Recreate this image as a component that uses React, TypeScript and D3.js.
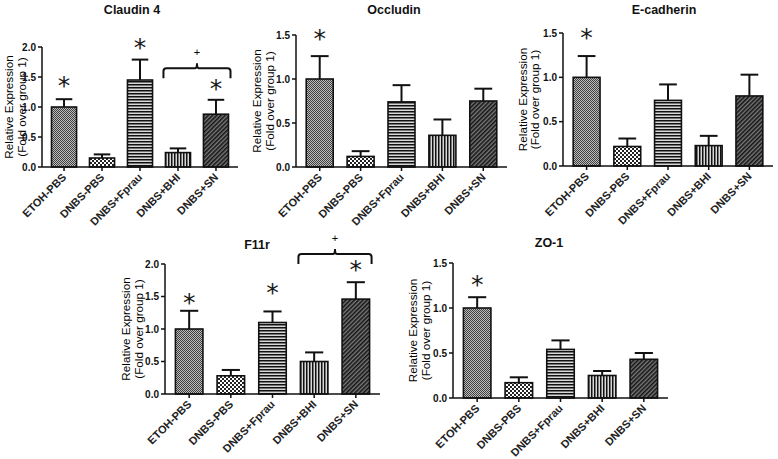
import React from "react";
import * as d3 from "d3";

const categories = ["ETOH-PBS", "DNBS-PBS", "DNBS+Fprau", "DNBS+BHI", "DNBS+SN"];

const claudinMeans = [1.0, 0.15, 1.45, 0.24, 0.88];
const claudinSem = [0.13, 0.06, 0.34, 0.07, 0.24];
const claudinStars = [1.45, null, 2.08, null, 1.4];

const occludinMeans = [1.0, 0.12, 0.74, 0.36, 0.75];
const occludinSem = [0.26, 0.06, 0.19, 0.18, 0.14];
const occludinStars = [1.52, null, null, null, null];

const ecadMeans = [1.0, 0.22, 0.74, 0.23, 0.79];
const ecadSem = [0.24, 0.09, 0.18, 0.11, 0.24];
const ecadStars = [1.51, null, null, null, null];

const f11rMeans = [1.0, 0.28, 1.1, 0.5, 1.46];
const f11rSem = [0.28, 0.09, 0.17, 0.14, 0.26];
const f11rStars = [1.5, null, 1.65, null, 2.0];

const zo1Means = [1.0, 0.17, 0.54, 0.25, 0.43];
const zo1Sem = [0.12, 0.06, 0.1, 0.05, 0.07];
const zo1Stars = [1.32, null, null, null, null];

const ticks2 = [0, 0.5, 1.0, 1.5, 2.0];
const ticks15 = [0, 0.5, 1.0, 1.5];

const yLabel1 = "Relative Expression";
const yLabel2 = "(Fold over group 1)";

const FONT = "'Liberation Sans', Arial, sans-serif";

type Panel = {
  title: string;
  means: number[];
  sem: number[];
  stars: (number | null)[];
  ticks: number[];
  x0: number;
  x1: number;
  yTop: number;
  yBottom: number;
  titleX: number;
  titleY: number;
  lab1: number;
  lab2: number;
  bracket?: { from: number; to: number; base: number };
};

const panels: Panel[] = [
  { title: "Claudin 4", means: claudinMeans, sem: claudinSem, stars: claudinStars, ticks: ticks2,
    x0: 42, x1: 238, yTop: 47, yBottom: 167, titleX: 132, titleY: 14, lab1: 34, lab2: 21,
    bracket: { from: 3, to: 4, base: 1.48 } },
  { title: "Occludin", means: occludinMeans, sem: occludinSem, stars: occludinStars, ticks: ticks15,
    x0: 296, x1: 507, yTop: 35, yBottom: 167, titleX: 394, titleY: 14, lab1: 40, lab2: 27 },
  { title: "E-cadherin", means: ecadMeans, sem: ecadSem, stars: ecadStars, ticks: ticks15,
    x0: 563, x1: 773, yTop: 33, yBottom: 166, titleX: 664, titleY: 14, lab1: 41, lab2: 29 },
  { title: "F11r", means: f11rMeans, sem: f11rSem, stars: f11rStars, ticks: ticks2,
    x0: 165, x1: 380, yTop: 264, yBottom: 394, titleX: 257, titleY: 249, lab1: 40, lab2: 27,
    bracket: { from: 3, to: 4, base: 2.0 } },
  { title: "ZO-1", means: zo1Means, sem: zo1Sem, stars: zo1Stars, ticks: ticks15,
    x0: 453, x1: 668, yTop: 263, yBottom: 398, titleX: 549, titleY: 247, lab1: 41, lab2: 28 },
];

const patternIds = ["pEtoh", "pPbs", "pFprau", "pBhi", "pSn"];

function Patterns() {
  return (
    <defs>
      <pattern id="pEtoh" width="2" height="2" patternUnits="userSpaceOnUse">
        <rect width="2" height="2" fill="#bcbcbc" />
        <rect width="1" height="1" fill="#404040" />
        <rect x="1" y="1" width="1" height="1" fill="#404040" />
      </pattern>
      <pattern id="pPbs" width="4" height="4" patternUnits="userSpaceOnUse">
        <rect width="4" height="4" fill="#fff" />
        <rect width="2" height="2" fill="#222" />
        <rect x="2" y="2" width="2" height="2" fill="#222" />
      </pattern>
      <pattern id="pFprau" width="3" height="3" patternUnits="userSpaceOnUse">
        <rect width="3" height="3" fill="#d8d8d8" />
        <rect width="3" height="1.5" fill="#111" />
      </pattern>
      <pattern id="pBhi" width="3" height="3" patternUnits="userSpaceOnUse">
        <rect width="3" height="3" fill="#d8d8d8" />
        <rect width="1.5" height="3" fill="#111" />
      </pattern>
      <pattern id="pSn" width="3" height="3" patternUnits="userSpaceOnUse" patternTransform="rotate(45)">
        <rect width="3" height="3" fill="#7a7a7a" />
        <rect width="1.6" height="3" fill="#151515" />
      </pattern>
    </defs>
  );
}

function PanelView({ p }: { p: Panel }) {
  const yMax = p.ticks[p.ticks.length - 1];
  const y = d3.scaleLinear().domain([0, yMax]).range([p.yBottom, p.yTop]);
  const x = d3.scaleBand<string>().domain(categories).range([p.x0, p.x1]).paddingInner(0.34).paddingOuter(0.25);
  const bw = x.bandwidth();
  const cap = bw * 0.33;
  const midY = (p.yTop + p.yBottom) / 2;
  const fmt = d3.format(".1f");

  let bracket: React.ReactNode = null;
  if (p.bracket) {
    const bx0 = (x(categories[p.bracket.from]) as number) - 2;
    const bx1 = (x(categories[p.bracket.to]) as number) + bw + 2;
    const by = y(p.bracket.base);
    const top = by - 10;
    const mid = (bx0 + bx1) / 2;
    const r = 3;
    const path = `M${bx0},${by} L${bx0},${top + r} Q${bx0},${top} ${bx0 + r},${top} L${mid - 2},${top} Q${mid},${top} ${mid},${top - 5} Q${mid},${top} ${mid + 2},${top} L${bx1 - r},${top} Q${bx1},${top} ${bx1},${top + r} L${bx1},${by}`;
    bracket = (
      <g>
        <path d={path} fill="none" stroke="#111" strokeWidth={2} />
        <g opacity={0.999}>
          <text x={mid} y={top - 12} textAnchor="middle" fontSize={11} fontFamily={FONT} fill="#000">+</text>
        </g>
      </g>
    );
  }

  return (
    <g>
      <text x={p.titleX} y={p.titleY} textAnchor="middle" fontSize={12.5} fontWeight="bold" fontFamily={FONT} fill="#111">{p.title}</text>
      <text transform={`translate(${p.x0 - p.lab1},${midY}) rotate(-90)`} textAnchor="middle" dominantBaseline="central" fontSize={11.7} fontFamily={FONT} fill="#000">{yLabel1}</text>
      <text transform={`translate(${p.x0 - p.lab2},${midY}) rotate(-90)`} textAnchor="middle" dominantBaseline="central" fontSize={11.7} fontFamily={FONT} fill="#000">{yLabel2}</text>
      {categories.map((c, i) => {
        const bx = x(c) as number;
        const top = y(p.means[i]);
        const errY = y(p.means[i] + p.sem[i]);
        const cx = bx + bw / 2;
        return (
          <g key={c}>
            <line x1={cx} x2={cx} y1={top} y2={errY} stroke="#111" strokeWidth={2} />
            <line x1={cx - cap} x2={cx + cap} y1={errY} y2={errY} stroke="#111" strokeWidth={2} />
            <rect x={bx} y={top} width={bw} height={p.yBottom - top} fill={`url(#${patternIds[i]})`} stroke="#111" strokeWidth={1.6} />
            {p.stars[i] != null && (
              <g opacity={0.999}>
                <text x={cx} y={y(p.stars[i] as number) + 14} textAnchor="middle" fontSize={25} fontFamily="'DejaVu Sans', sans-serif" fill="#1a1a1a">*</text>
              </g>
            )}
          </g>
        );
      })}
      <line x1={p.x0} x2={p.x0} y1={p.yBottom} y2={p.yTop} stroke="#111" strokeWidth={1.5} />
      {p.ticks.map((t) => (
        <g key={t}>
          <line x1={p.x0 - 4} x2={p.x0} y1={y(t)} y2={y(t)} stroke="#111" strokeWidth={1.5} />
          <text x={p.x0 - 6} y={y(t)} textAnchor="end" dominantBaseline="central" fontSize={10} fontWeight="bold" fontFamily={FONT} fill="#111">{fmt(t)}</text>
        </g>
      ))}
      <line x1={p.x0} x2={p.x1} y1={p.yBottom} y2={p.yBottom} stroke="#111" strokeWidth={1.6} />
      {categories.map((c) => {
        const cx = (x(c) as number) + bw / 2;
        return (
          <g key={c}>
            <line x1={cx} x2={cx} y1={p.yBottom} y2={p.yBottom + 4} stroke="#111" strokeWidth={1.5} />
            <text transform={`translate(${cx + 3},${p.yBottom + 11}) rotate(-45)`} textAnchor="end" fontSize={11} fontWeight="bold" fontFamily={FONT} fill="#222">{c}</text>
          </g>
        );
      })}
      {bracket}
    </g>
  );
}

export default function App() {
  return (
    <svg width={778} height={459} style={{ position: "absolute", left: 0, top: 0, background: "#fff" }}>
      <Patterns />
      <rect width={778} height={459} fill="#fff" />
      {panels.map((p) => (
        <PanelView key={p.title} p={p} />
      ))}
    </svg>
  );
}
